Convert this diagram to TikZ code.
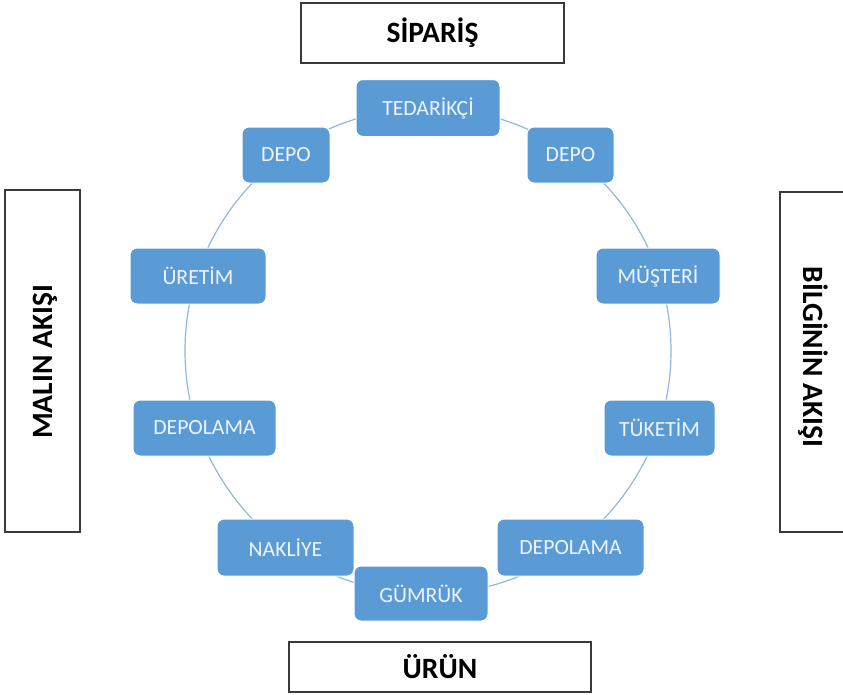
\documentclass[tikz,border=0pt]{standalone}
\usepackage{fontspec}
\setmainfont{Carlito}
\definecolor{boxblue}{HTML}{5B9BD5}
\definecolor{ringblue}{HTML}{8FB8E0}
\definecolor{boxtext}{HTML}{EEF4FB}
\definecolor{frame}{HTML}{3A3A3A}
\begin{document}
\begin{tikzpicture}[x=1pt,y=-1pt,
  stepbox/.style={rectangle, rounded corners=7pt, fill=boxblue, draw=white, line width=1pt,
    text=boxtext, font=\fontsize{21.7}{26}\selectfont, inner sep=0pt, anchor=center},
  labelbox/.style={rectangle, draw=frame, line width=1.3pt, fill=white, inner sep=0pt},
  labeltext/.style={font=\fontsize{29.5}{34}\selectfont\bfseries, text=black, inner sep=0pt},
  ring/.style={draw=ringblue, line width=1.2pt}]
\useasboundingbox (0,0) rectangle (843,694);
\fill[white] (0,0) rectangle (843,694);
% ring
\draw[ring] (428,351) circle[radius=243pt];
% step boxes
\node[stepbox, minimum width=144pt, minimum height=57pt] (ted) at (428,108) {TEDARİKÇİ};
\node[stepbox, minimum width=88pt, minimum height=56pt] (depoL) at (286,155) {DEPO};
\node[stepbox, minimum width=87pt, minimum height=56pt] (depoR) at (570.5,155) {DEPO};
\node[stepbox, minimum width=136pt, minimum height=56pt] (uretim) at (198,276) {ÜRETİM};
\node[stepbox, minimum width=124pt, minimum height=56pt] (musteri) at (658,276) {MÜŞTERİ};
\node[stepbox, minimum width=143pt, minimum height=56pt] (depolamaL) at (204.5,428) {DEPOLAMA};
\node[stepbox, minimum width=111pt, minimum height=56pt] (tuketim) at (659.5,428) {TÜKETİM};
\node[stepbox, minimum width=137pt, minimum height=57pt] (nakliye) at (285.5,547.5) {NAKLİYE};
\node[stepbox, minimum width=147pt, minimum height=57pt] (depolamaR) at (570.5,547.5) {DEPOLAMA};
\node[stepbox, minimum width=134pt, minimum height=55pt] (gumruk) at (421,593.5) {GÜMRÜK};
% label boxes
\node[labelbox, minimum width=263pt, minimum height=60pt] (siparisbox) at (432.5,33) {};
\node[labeltext] (siparis) at (siparisbox.center) {SİPARİŞ};
\node[labelbox, minimum width=302pt, minimum height=50pt] (urunbox) at (440,667) {};
\node[labeltext] (urun) at (urunbox.center) {ÜRÜN};
\node[labelbox, minimum width=75pt, minimum height=342pt] (malinbox) at (42.5,361) {};
\node[labeltext, rotate=90] (malin) at (45,362) {MALIN AKIŞI};
\node[labelbox, minimum width=80pt, minimum height=340pt] (bilgibox) at (820,362) {};
\node[labeltext, rotate=-90] (bilgi) at (813,357) {BİLGİNİN AKIŞI};
\end{tikzpicture}
\end{document}
